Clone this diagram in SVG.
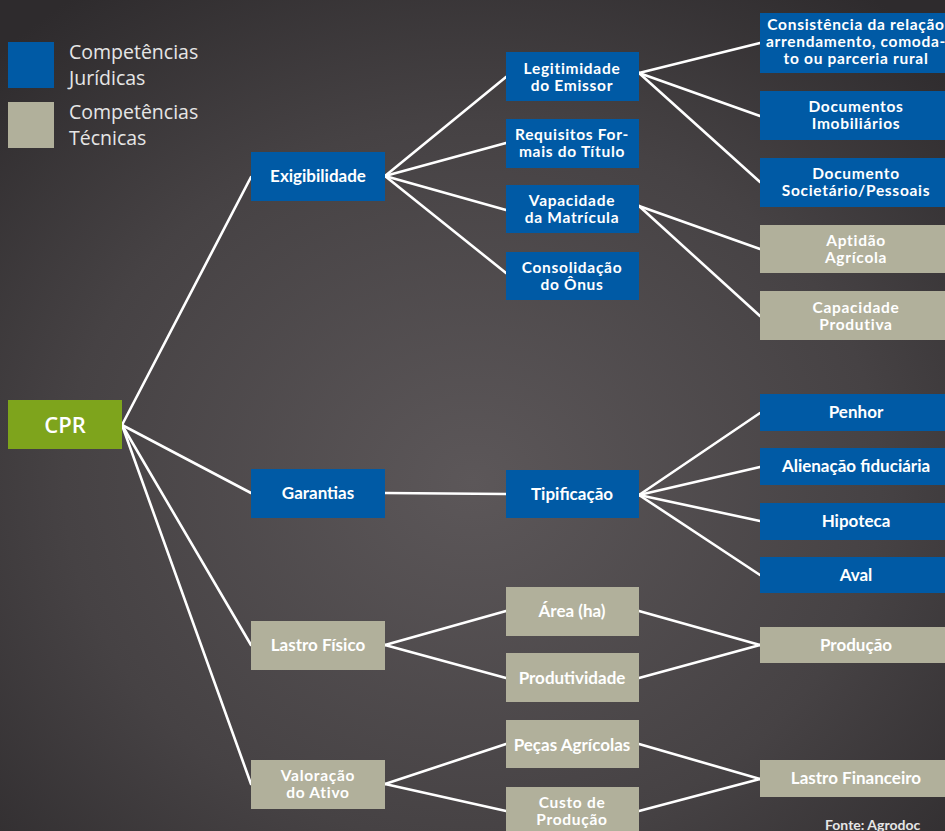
<svg xmlns="http://www.w3.org/2000/svg" width="945" height="831" viewBox="0 0 945 831">
<defs>
<radialGradient id="bg" cx="50%" cy="58%" r="72%">
<stop offset="0" stop-color="#5c5759"/>
<stop offset="0.6" stop-color="#464244"/>
<stop offset="1" stop-color="#2e2b2d"/>
</radialGradient>
</defs>
<style>
.j{fill:#005aa5}
.t{fill:#b1b09b}
.g{fill:#7ea41c}
.lbl{font-family:Lato,"Liberation Sans",sans-serif;font-weight:700;font-size:17px;fill:#fff;text-anchor:middle}
.sm{font-size:15.5px;letter-spacing:0.7px}
.leg{font-family:"Open Sans","Noto Sans",sans-serif;font-size:19.5px;fill:#e6e6e6}
.cn line{stroke:#fff;stroke-width:2.6;stroke-linecap:round}
</style>
<rect width="945" height="831" fill="url(#bg)"/>
<g id="legend">
<rect class="j" x="8" y="42" width="46" height="46"/>
<rect class="t" x="8" y="102" width="46" height="46"/>
<text class="leg" x="69" y="59">Competências</text>
<text class="leg" x="69" y="85">Jurídicas</text>
<text class="leg" x="69" y="119">Competências</text>
<text class="leg" x="69" y="145">Técnicas</text>
</g>
<g id="connectors" class="cn">
<line x1="122" y1="425" x2="251" y2="177"/>
<line x1="122" y1="425" x2="251" y2="493"/>
<line x1="122" y1="425" x2="251" y2="645"/>
<line x1="122" y1="425" x2="251" y2="784"/>
<line x1="385" y1="176" x2="506" y2="77"/>
<line x1="385" y1="176" x2="506" y2="143"/>
<line x1="385" y1="176" x2="506" y2="210"/>
<line x1="385" y1="176" x2="506" y2="273"/>
<line x1="639" y1="73" x2="760" y2="43"/>
<line x1="639" y1="73" x2="760" y2="116"/>
<line x1="639" y1="73" x2="760" y2="182"/>
<line x1="639" y1="206" x2="760" y2="249"/>
<line x1="639" y1="206" x2="760" y2="316"/>
<line x1="385" y1="493" x2="506" y2="494"/>
<line x1="639" y1="495" x2="760" y2="413"/>
<line x1="639" y1="495" x2="760" y2="467"/>
<line x1="639" y1="495" x2="760" y2="521"/>
<line x1="639" y1="495" x2="760" y2="575"/>
<line x1="385" y1="645" x2="506" y2="611"/>
<line x1="385" y1="645" x2="506" y2="678"/>
<line x1="639" y1="611" x2="760" y2="645"/>
<line x1="639" y1="678" x2="760" y2="645"/>
<line x1="385" y1="784" x2="506" y2="744"/>
<line x1="385" y1="784" x2="506" y2="811"/>
<line x1="639" y1="744" x2="760" y2="779"/>
<line x1="639" y1="811" x2="760" y2="779"/>
</g>
<g id="cpr"><rect class="g" x="8" y="400" width="114" height="49"/><text x="65" y="433" font-family="'Open Sans','Noto Sans',sans-serif" font-weight="600" font-size="22" fill="#fff" text-anchor="middle">CPR</text></g>
<g id="exigibilidade"><rect class="j" x="251" y="152" width="134" height="49"/><text class="lbl" x="318" y="182">Exigibilidade</text></g>
<g id="garantias"><rect class="j" x="251" y="469" width="134" height="49"/><text class="lbl" x="318" y="499">Garantias</text></g>
<g id="lastro-fisico"><rect class="t" x="251" y="621" width="134" height="49"/><text class="lbl" x="318" y="651">Lastro Físico</text></g>
<g id="valoracao"><rect class="t" x="251" y="760" width="134" height="49"/><text class="lbl sm" x="318" y="781">Valoração</text><text class="lbl sm" x="318" y="798">do Ativo</text></g>
<g id="legitimidade"><rect class="j" x="506" y="52" width="133" height="49"/><text class="lbl sm" x="572" y="74">Legitimidade</text><text class="lbl sm" x="572" y="91">do Emissor</text></g>
<g id="requisitos"><rect class="j" x="506" y="119" width="133" height="49"/><text class="lbl sm" x="572" y="140">Requisitos For-</text><text class="lbl sm" x="572" y="157">mais do Título</text></g>
<g id="vapacidade"><rect class="j" x="506" y="185" width="133" height="48"/><text class="lbl sm" x="572" y="206">Vapacidade</text><text class="lbl sm" x="572" y="223">da Matrícula</text></g>
<g id="consolidacao"><rect class="j" x="506" y="252" width="133" height="48"/><text class="lbl sm" x="572" y="273">Consolidação</text><text class="lbl sm" x="572" y="290">do Ônus</text></g>
<g id="tipificacao"><rect class="j" x="506" y="470" width="133" height="48"/><text class="lbl" x="572" y="500">Tipificação</text></g>
<g id="area"><rect class="t" x="506" y="587" width="133" height="49"/><text class="lbl" x="572" y="617">Área (ha)</text></g>
<g id="produtividade"><rect class="t" x="506" y="653" width="133" height="49"/><text class="lbl" x="572" y="684">Produtividade</text></g>
<g id="pecas"><rect class="t" x="506" y="720" width="133" height="48"/><text class="lbl" x="572" y="751">Peças Agrícolas</text></g>
<g id="custo"><rect class="t" x="506" y="787" width="133" height="49"/><text class="lbl sm" x="572" y="808">Custo de</text><text class="lbl sm" x="572" y="825">Produção</text></g>
<g id="consistencia"><rect class="j" x="760" y="13" width="190" height="60"/><text class="lbl sm" x="856" y="30">Consistência da relação</text><text class="lbl sm" x="856" y="47">arrendamento, comoda-</text><text class="lbl sm" x="856" y="64">to ou parceria rural</text></g>
<g id="doc-imob"><rect class="j" x="760" y="91" width="190" height="49"/><text class="lbl sm" x="856" y="112">Documentos</text><text class="lbl sm" x="856" y="129">Imobiliários</text></g>
<g id="doc-soc"><rect class="j" x="760" y="158" width="190" height="49"/><text class="lbl sm" x="856" y="179">Documento</text><text class="lbl sm" x="856" y="196">Societário/Pessoais</text></g>
<g id="aptidao"><rect class="t" x="760" y="225" width="190" height="48"/><text class="lbl sm" x="856" y="246">Aptidão</text><text class="lbl sm" x="856" y="263">Agrícola</text></g>
<g id="capacidade"><rect class="t" x="760" y="291" width="190" height="49"/><text class="lbl sm" x="856" y="313">Capacidade</text><text class="lbl sm" x="856" y="330">Produtiva</text></g>
<g id="penhor"><rect class="j" x="760" y="394" width="190" height="37"/><text class="lbl" x="856" y="418">Penhor</text></g>
<g id="alienacao"><rect class="j" x="760" y="448" width="190" height="37"/><text class="lbl" x="856" y="472">Alienação fiduciária</text></g>
<g id="hipoteca"><rect class="j" x="760" y="503" width="190" height="37"/><text class="lbl" x="856" y="527">Hipoteca</text></g>
<g id="aval"><rect class="j" x="760" y="557" width="190" height="36"/><text class="lbl" x="856" y="581">Aval</text></g>
<g id="producao"><rect class="t" x="760" y="627" width="190" height="36"/><text class="lbl" x="856" y="651">Produção</text></g>
<g id="lastro-financeiro"><rect class="t" x="760" y="760" width="190" height="37"/><text class="lbl" x="856" y="784">Lastro Financeiro</text></g>
<text x="825" y="830" font-family="Lato,'Liberation Sans',sans-serif" font-weight="700" font-size="14" fill="#e6e6e6">Fonte: Agrodoc</text>
</svg>
